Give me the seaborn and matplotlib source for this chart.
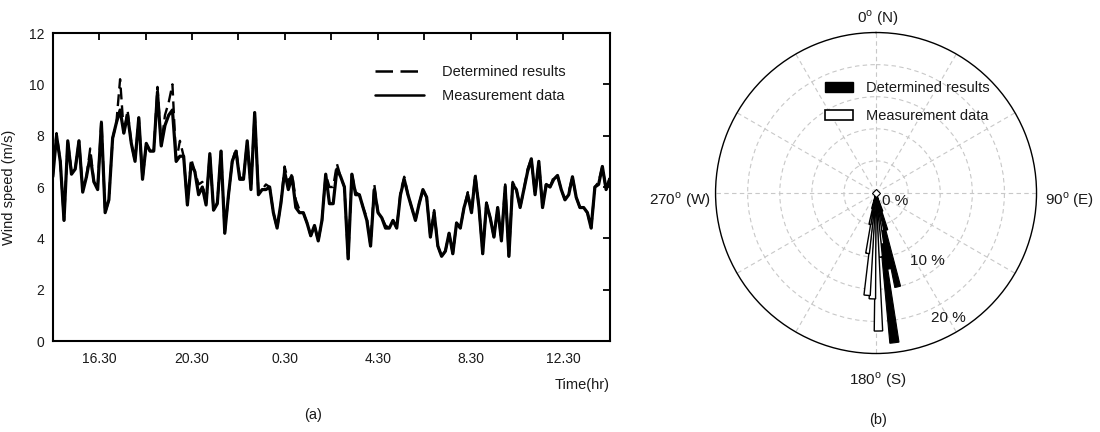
import numpy as np
import seaborn as sns
import matplotlib.pyplot as plt
from matplotlib.lines import Line2D
from matplotlib.patches import Patch

sns.set_style('white')
plt.rcParams['font.family'] = ['Liberation Sans', 'DejaVu Sans']
plt.rcParams['mathtext.fontset'] = 'custom'
plt.rcParams['mathtext.rm'] = 'Liberation Sans'

# (a) wind speed time series, 10-min samples from 14.30 to 14.30 next day
measured = [6.4, 8.0, 7.0, 4.7, 7.8, 6.5, 6.7, 7.8, 5.8, 6.4, 7.2, 6.2, 5.9, 8.5, 5.0, 5.5,
            7.9, 8.5, 9.0, 8.1, 8.8, 7.7, 7.0, 8.7, 6.3, 7.7, 7.4, 7.4, 9.7, 7.6, 8.4, 8.8,
            9.0, 7.0, 7.2, 7.2, 5.3,
            6.9, 6.6, 5.7, 6.0, 5.3, 7.3, 5.1, 5.35, 7.4, 4.2, 5.7, 7.0, 7.4, 6.3, 6.3, 7.8,
            5.9, 8.9, 5.7, 5.9, 5.9, 6.0, 5.0, 4.4, 5.35, 6.6, 5.9, 6.4, 5.2, 5.0, 5.0, 4.6,
            4.1, 4.5, 3.9, 4.7, 6.5,
            5.35, 5.35, 6.7, 6.4, 6.0, 3.2, 6.5, 5.7, 5.7, 5.2, 4.7, 3.7, 5.9, 5.0, 4.8, 4.4,
            4.4, 4.7, 4.4, 5.7, 6.3, 5.7, 5.2, 4.7, 5.35, 5.9, 5.6, 4.05, 5.0, 3.7, 3.3, 3.5,
            4.2, 3.4, 4.6, 4.4, 5.2,
            5.7, 5.0, 6.4, 5.2, 3.4, 5.35, 4.8, 4.05, 5.2, 3.9, 6.0, 3.3, 6.1, 5.9, 5.2, 5.9,
            6.6, 7.1, 5.7, 7.0, 5.2, 6.1, 6.0, 6.3, 6.45, 5.9, 5.5, 5.7, 6.4, 5.6, 5.2, 5.2,
            5.0, 4.4, 6.0, 6.1, 6.8, 5.9, 6.3]
determined = [6.4, 8.1, 7.0, 4.7, 7.8, 6.6, 6.7, 7.8, 5.9, 6.4, 7.5, 6.2, 6.0, 8.6, 5.0, 5.5,
              7.9, 8.5, 10.2, 8.1, 9.0, 7.7, 7.0, 8.7, 6.3, 7.7, 7.4, 7.4, 9.9, 7.6, 8.8, 9.3,
              10.0, 7.0, 7.8, 7.2, 5.3,
              7.1, 6.6, 6.1, 6.2, 5.3, 7.3, 5.1, 5.4, 7.4, 4.2, 5.7, 7.0, 7.5, 6.4, 6.3, 7.8,
              5.9, 8.9, 5.8, 5.9, 6.1, 6.0, 5.0, 4.4, 5.35, 6.8, 6.2, 6.5, 5.5, 5.1, 5.0, 4.6,
              4.1, 4.5, 3.9, 4.7, 6.5,
              6.0, 6.0, 6.9, 6.4, 6.0, 3.2, 6.5, 5.8, 5.7, 5.2, 4.8, 3.7, 6.1, 5.0, 4.8, 4.5,
              4.4, 4.7, 4.4, 5.8, 6.4, 5.7, 5.2, 4.7, 5.35, 5.9, 5.6, 4.05, 5.1, 3.7, 3.3, 3.5,
              4.2, 3.4, 4.6, 4.4, 5.2,
              5.8, 5.0, 6.5, 5.2, 3.4, 5.4, 4.8, 4.05, 5.2, 3.9, 6.1, 3.3, 6.2, 5.9, 5.2, 5.9,
              6.7, 7.1, 5.7, 7.0, 5.2, 6.2, 6.0, 6.4, 6.45, 5.9, 5.5, 5.8, 6.4, 5.6, 5.2, 5.2,
              5.0, 4.4, 6.0, 6.2, 6.8, 5.9, 6.4]
hours = np.linspace(0, 24, len(measured))
tick_hours = [2, 6, 10, 14, 18, 22]
tick_labels = ['16.30', '20.30', '0.30', '4.30', '8.30', '12.30']

# (b) wind rose, direction bins (deg) and frequency (%)
rose_dir = [161, 164, 167, 170, 173, 176, 179, 182, 185, 188, 191, 194]
rose_det = [3.0, 6.0, 15.0, 12.0, 23.5, 10.0, 8.0, 6.0, 4.5, 3.0, 2.0, 0.0]
rose_meas = [0.0, 2.0, 4.0, 6.0, 8.0, 10.0, 21.5, 16.5, 16.0, 9.5, 5.0, 2.5]

fig = plt.figure(figsize=(11, 4.32), dpi=100)
txt = '#1a1a1a'
fs = 10.5

ax = fig.add_axes([0.048, 0.2106, 0.5064, 0.713])
sns.lineplot(x=hours, y=measured, color='black', lw=2.3, ax=ax)
sns.lineplot(x=hours, y=determined, color='black', lw=1.7, ax=ax, linestyle=(0, (5, 2.5)))
ax.set_xlim(0, 24)
ax.set_ylim(0, 12)
ax.set_yticks(range(0, 13, 2))
ax.set_xticks(tick_hours)
ax.set_xticklabels(tick_labels)
ax.set_xticks([4, 8, 12, 16, 20], minor=True)
ax.tick_params(which='both', direction='in', top=True, right=True, length=5, width=1.3,
               color='black', labelsize=fs - 0.5, labelcolor=txt, pad=8)
ax.tick_params(axis='y', pad=6)
for s in ax.spines.values():
    s.set_color('black')
    s.set_linewidth(1.5)
ax.set_ylabel('Wind speed (m/s)', fontsize=fs, color=txt, labelpad=9)
ax.set_xlabel('')
fig.text(0.5545, 0.108, 'Time(hr)', ha='right', va='center', fontsize=fs, color=txt)
fig.text(0.2845, 0.04, '(a)', ha='center', va='center', fontsize=fs, color=txt)
handles = [Line2D([], [], color='black', lw=1.8, linestyle=(0, (7, 3))),
           Line2D([], [], color='black', lw=1.8)]
ax.legend(handles, ['Determined results', 'Measurement data'], loc='upper left',
          bbox_to_anchor=(0.578, 0.895), frameon=False, fontsize=fs, handlelength=3.4,
          handletextpad=1.2, labelspacing=0.65, borderpad=0, borderaxespad=0, labelcolor=txt)

# wind rose
pax = fig.add_axes([0.6505, 0.1817, 0.2918, 0.743], projection='polar')
pax.set_theta_zero_location('N')
pax.set_theta_direction(-1)
pax.set_ylim(0, 25)
width = np.deg2rad(3.5)
pax.bar(np.deg2rad(rose_dir), rose_det, width=width, color='black', edgecolor='black', lw=0.8)
pax.bar(np.deg2rad(rose_dir), rose_meas, width=width, color='white', edgecolor='black', lw=1.0)
pax.plot([0], [0], marker='D', ms=4, mfc='white', mec='black', mew=0.8)
pax.set_thetagrids(range(0, 360, 30), labels=[])
pax.set_rgrids([5, 10, 15, 20], labels=[])
pax.grid(True, color='#c8c8c8', lw=0.8, linestyle=(0, (4, 3)))
pax.spines['polar'].set_color('black')
pax.spines['polar'].set_linewidth(1.0)
pax.set_facecolor('white')

pax.text(np.deg2rad(112), 3.2, '0 %', fontsize=fs + 0.5, color=txt, ha='center', va='center')
pax.text(np.deg2rad(143), 13.2, '10 %', fontsize=fs + 0.5, color=txt, ha='center', va='center')
pax.text(np.deg2rad(150), 22.5, '20 %', fontsize=fs + 0.5, color=txt, ha='center', va='center')

fig.text(0.798, 0.958, r'0$^{\mathregular{o}}$ (N)', ha='center', va='center', fontsize=fs + 0.5, color=txt)
fig.text(0.972, 0.537, r'90$^{\mathregular{o}}$ (E)', ha='center', va='center', fontsize=fs + 0.5, color=txt)
fig.text(0.798, 0.12, r'180$^{\mathregular{o}}$ (S)', ha='center', va='center', fontsize=fs + 0.5, color=txt)
fig.text(0.618, 0.537, r'270$^{\mathregular{o}}$ (W)', ha='center', va='center', fontsize=fs + 0.5, color=txt)
fig.text(0.798, 0.028, '(b)', ha='center', va='center', fontsize=fs, color=txt)

rose_handles = [Patch(facecolor='black', edgecolor='black'),
                Patch(facecolor='white', edgecolor='black', lw=1.2)]
fig.legend(rose_handles, ['Determined results', 'Measurement data'], loc='upper left',
           bbox_to_anchor=(0.75, 0.812), frameon=False, fontsize=fs, handlelength=1.9,
           handleheight=0.7, handletextpad=0.9, labelspacing=0.95, borderpad=0,
           borderaxespad=0, labelcolor=txt)

fig.savefig('out.png', dpi=100)
